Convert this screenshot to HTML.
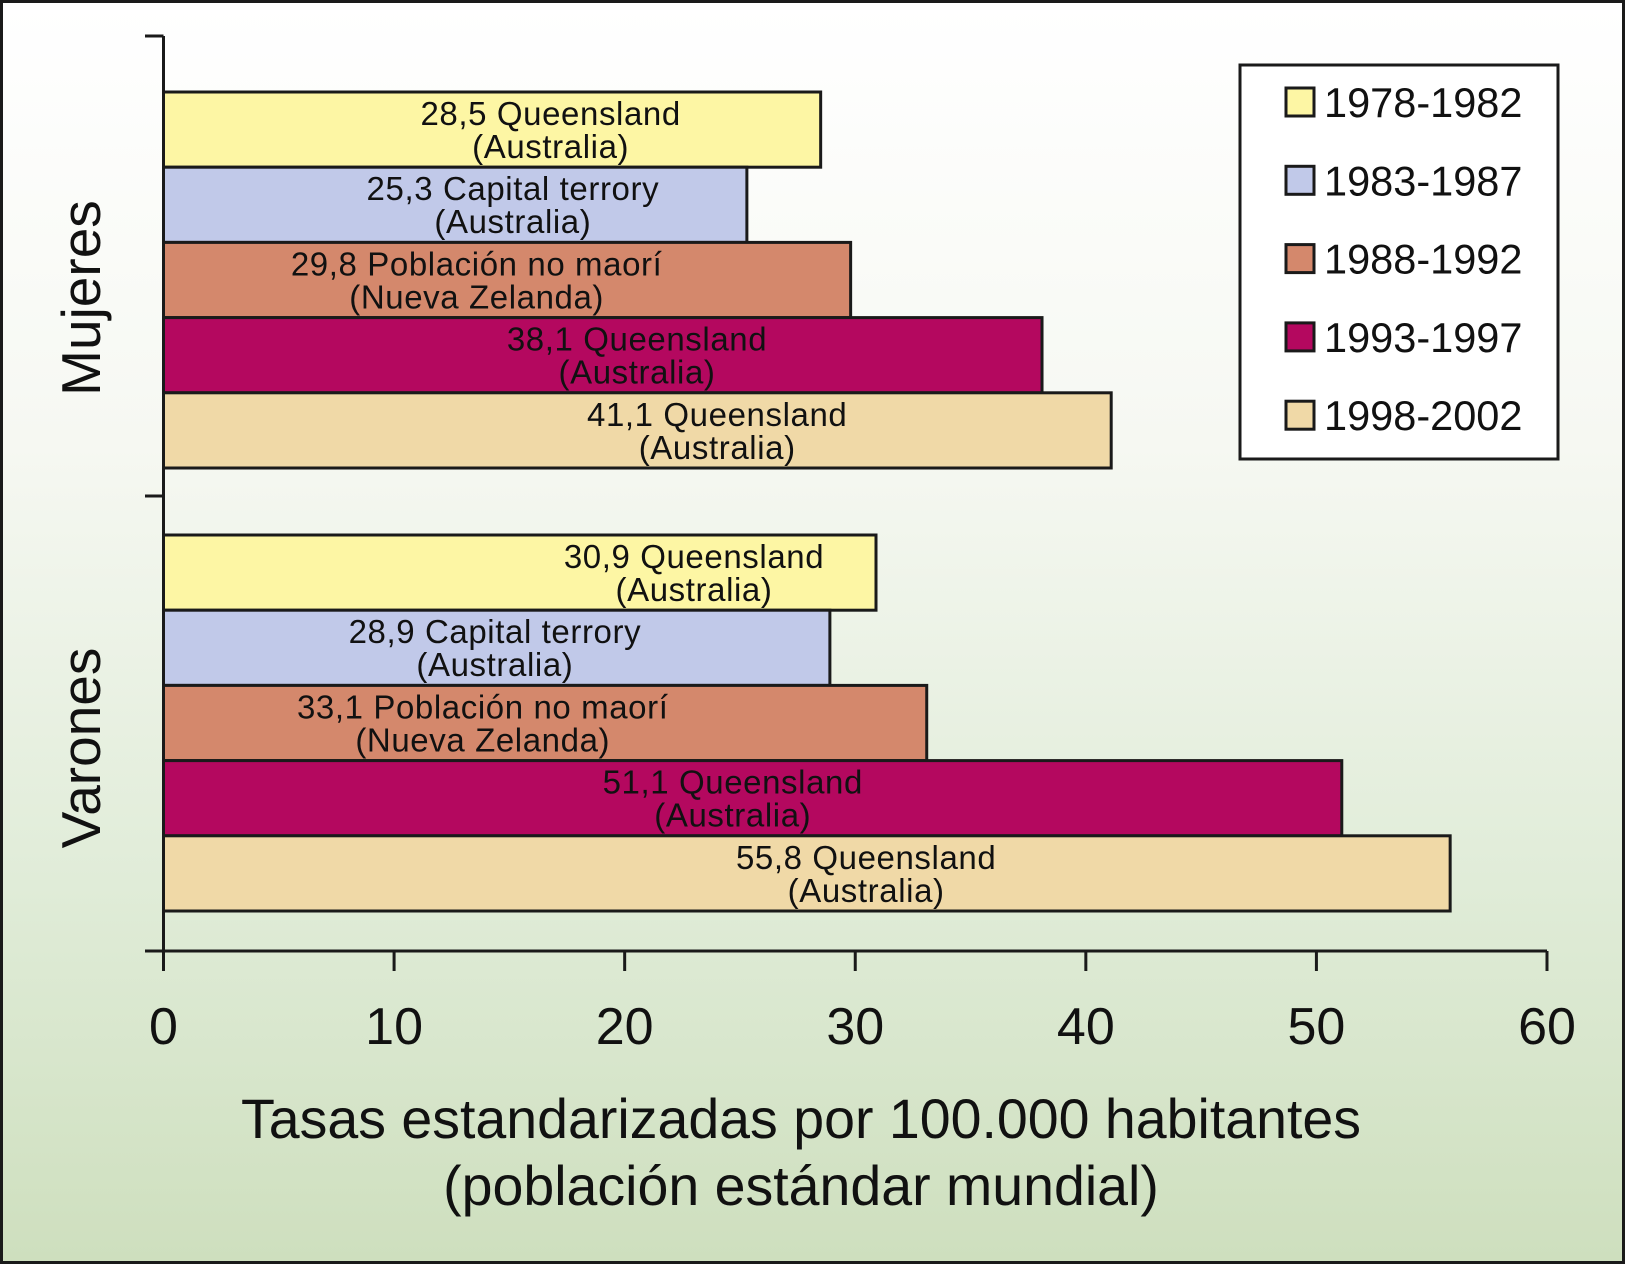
<!DOCTYPE html>
<html><head><meta charset="utf-8"><style>
html,body{margin:0;padding:0;width:1625px;height:1264px;overflow:hidden}
#wrap{position:absolute;left:0;top:0;width:1619px;height:1258px;border:3px solid #1a1a1a;background:linear-gradient(#ffffff 0%,#f6f8f2 35%,#e0ecd8 70%,#cedfbe 100%)}
svg{position:absolute;left:0;top:0}
text{font-family:"Liberation Sans",Arial,sans-serif;fill:#111}
</style></head><body>
<div id="wrap"></div>
<svg id="chart" width="1625" height="1264"></svg>
<script>
const periods=["1978-1982","1983-1987","1988-1992","1993-1997","1998-2002"];
const colors=["#fdf6a4","#c1c9e9","#d4886c","#b4085f","#f0d9a7"];
const groups=["Mujeres","Varones"];
const mujeresValues=[28.5,25.3,29.8,38.1,41.1];
const varonesValues=[30.9,28.9,33.1,51.1,55.8];
const mujeresLabels=[["28,5 Queensland","(Australia)"],["25,3 Capital terrory","(Australia)"],["29,8 Población no maorí","(Nueva Zelanda)"],["38,1 Queensland","(Australia)"],["41,1 Queensland","(Australia)"]];
const varonesLabels=[["30,9 Queensland","(Australia)"],["28,9 Capital terrory","(Australia)"],["33,1 Población no maorí","(Nueva Zelanda)"],["51,1 Queensland","(Australia)"],["55,8 Queensland","(Australia)"]];
const xTicks=[0,10,20,30,40,50,60];
const labelOffsets=[[-270,-234,-374,-405,-394],[-182,-335,-444,-609,-584]];

const svg=document.getElementById('chart');
const NS="http://www.w3.org/2000/svg";
const X0=163.5,X1=1547,Y_AXIS=951,TOP=36;
const x=v=>X0+(X1-X0)*v/60;
function mk(t,a,p){const e=document.createElementNS(NS,t);for(const k in a)e.setAttribute(k,a[k]);(p||svg).appendChild(e);return e;}
const groupTop=[92,535],barH=75.2;
const allVals=[mujeresValues,varonesValues],allLabels=[mujeresLabels,varonesLabels];
allVals.forEach((vals,g)=>{
  vals.forEach((v,i)=>{
    const y=groupTop[g]+i*barH;
    const r=mk('rect',{x:X0,y:y,width:x(v)-X0,height:barH,fill:colors[i],stroke:'#1a1a1a','stroke-width':3});
    
    
    const cx=x(v)+labelOffsets[g][i];
    const txt=mk('text',{x:cx,y:y+33,'text-anchor':'middle','font-size':33,'letter-spacing':0.6});
    
    
    txt.setAttribute('fill',i===3?'#2a0a18':'#111');
    allLabels[g][i].forEach((s,k)=>{const ts=mk('tspan',{x:cx,dy:k?33:0},txt);ts.textContent=s;});
  });
});
let a=mk('line',{x1:X0,y1:TOP,x2:X0,y2:Y_AXIS+12,stroke:'#1a1a1a','stroke-width':3});

[TOP,496,Y_AXIS].forEach(ty=>{const t=mk('line',{x1:145,y1:ty,x2:X0,y2:ty,stroke:'#1a1a1a','stroke-width':3});});
a=mk('line',{x1:145,y1:Y_AXIS,x2:X1,y2:Y_AXIS,stroke:'#1a1a1a','stroke-width':3});

xTicks.forEach(v=>{
  const t=mk('line',{x1:x(v),y1:Y_AXIS,x2:x(v),y2:Y_AXIS+20,stroke:'#1a1a1a','stroke-width':3});
  
  const l=mk('text',{x:x(v),y:1044,'text-anchor':'middle','font-size':52});
  
  l.textContent=v;
});
[["Mujeres",298],["Varones",748]].forEach(([s,cy])=>{
  const t=mk('text',{x:0,y:0,'text-anchor':'middle','font-size':55,transform:`translate(100,${cy}) rotate(-90)`});
  
  t.textContent=s;
});
const xt=mk('text',{x:801,y:1138,'text-anchor':'middle','font-size':55.5});

["Tasas estandarizadas por 100.000 habitantes","(población estándar mundial)"].forEach((s,k)=>{const ts=mk('tspan',{x:801,dy:k?67:0},xt);ts.textContent=s;});
const lg=mk('g',{});

mk('rect',{x:1240,y:65,width:318,height:394,fill:'#fff',stroke:'#1a1a1a','stroke-width':3},lg);
periods.forEach((p,i)=>{
  const cy=102+i*78.3;
  const e=mk('g',{},lg);
  
  mk('rect',{x:1286,y:cy-14,width:28,height:28,fill:colors[i],stroke:'#1a1a1a','stroke-width':3},e);
  const t=mk('text',{x:1324,y:cy+15,'font-size':41.5},e);t.textContent=p;
});
</script>
</body></html>
